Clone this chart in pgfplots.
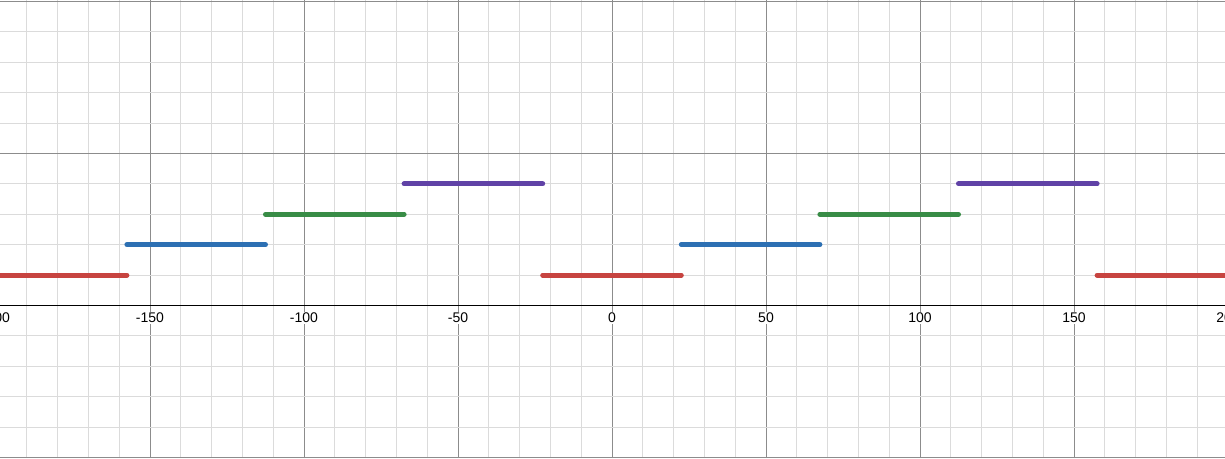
\documentclass[border=0pt]{standalone}
\usepackage{fontspec}
\setmainfont{Liberation Sans}
\usepackage{pgfplots}
\pgfplotsset{compat=1.18}
\definecolor{dred}{HTML}{C74440}
\definecolor{dblue}{HTML}{2D70B3}
\definecolor{dgreen}{HTML}{388C46}
\definecolor{dpurple}{HTML}{6042A6}
\begin{document}
\begin{tikzpicture}
\begin{axis}[
 at={(-3pt,0pt)}, anchor=south west,
 scale only axis, width=924pt, height=343.5pt,
 xmin=-200, xmax=200, ymin=-5.02, ymax=10.05,
 axis lines=middle, axis line style={-},
 y axis line style={draw=none},
 x axis line style={black, line width=1.3pt},
 hide obscured x ticks=false, hide obscured y ticks=false,
 xtick={-200,-150,...,200},
 xticklabels={-200,-150,-100,-50,0,50,100,150,200},
 ytick={-5,0,5,10}, yticklabels={},
 minor x tick num=4, minor y tick num=4,
 grid=both,
 major grid style={black!45, line width=0.75pt},
 minor grid style={black!14, line width=0.75pt},
 major tick length=0pt, minor tick length=0pt,
 xticklabel style={font=\fontsize{10.5}{12}\selectfont, fill=white, inner sep=0.5pt, yshift=-5pt},
 clip=true,
 every axis plot/.append style={line width=3.75pt, line cap=round},
]
\addplot[dred] coordinates {(-202.5,1) (-157.5,1)};
\addplot[dblue] coordinates {(-157.5,2) (-112.5,2)};
\addplot[dgreen] coordinates {(-112.5,3) (-67.5,3)};
\addplot[dpurple] coordinates {(-67.5,4) (-22.5,4)};
\addplot[dred] coordinates {(-22.5,1) (22.5,1)};
\addplot[dblue] coordinates {(22.5,2) (67.5,2)};
\addplot[dgreen] coordinates {(67.5,3) (112.5,3)};
\addplot[dpurple] coordinates {(112.5,4) (157.5,4)};
\addplot[dred] coordinates {(157.5,1) (202.5,1)};
\end{axis}
\pgfresetboundingbox
\useasboundingbox (0,0) rectangle (918.75pt,343.5pt);
\end{tikzpicture}
\end{document}
